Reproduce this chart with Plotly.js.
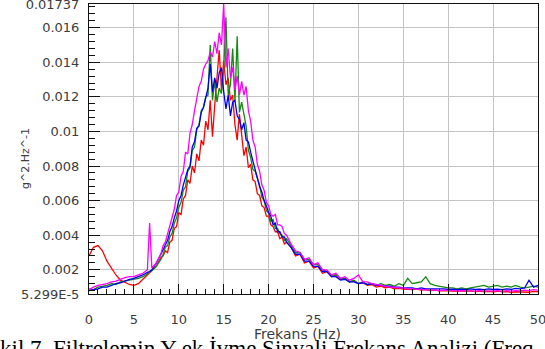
<!DOCTYPE html>
<html>
<head>
<meta charset="utf-8">
<script src="https://cdn.plot.ly/plotly-3.0.1.min.js"></script>
<style>
  html, body { margin: 0; padding: 0; background: #fff; }
  #chart { width: 545px; height: 349px; }
</style>
</head>
<body>
<div id="chart"></div>
<script>
// Frequency axis (Hz)
const freq = [0,0.5,1,1.5,2,2.5,3,3.5,4,4.5,5,5.5,6,6.5,6.75,7,7.5,8,
  8.25,8.5,8.75,9,9.25,9.5,9.75,10,10.25,10.5,10.75,11,11.25,11.5,11.75,12,12.25,12.5,12.75,13,13.25,13.5,13.75,14,
  14.25,14.5,14.75,15,15.25,15.5,15.75,16,16.25,16.5,16.75,17,17.25,17.5,17.75,18,18.25,18.5,18.75,19,19.25,19.5,19.75,20,
  20.25,20.5,20.75,21,21.25,21.5,21.75,22,
  22.5,23,23.5,24,24.5,25,25.5,26,26.5,27,27.5,28,28.5,29,29.5,30,30.5,31,31.5,32,32.5,33,33.5,34,34.5,35,35.5,36,36.5,37,
  37.5,38,38.5,39,39.5,40,40.5,41,41.5,42,42.5,43,43.5,44,44.5,45,45.5,46,46.5,47,47.5,48,48.5,49,49.5,50];

// PSD values (g^2/Hz)
const psdRed = [0.0028,0.0033,0.0034,0.0031,0.0025,0.0021,0.0017,0.0014,0.00125,0.00115,0.0011,0.0012,0.00145,0.0017,0.0018,0.0019,0.0022,0.0027,
  0.0028,0.0031,0.0030,0.0036,0.0037,0.0044,0.0045,0.0053,0.0052,0.0061,0.0063,0.0072,0.0070,0.0080,0.0076,0.0087,0.0083,0.0095,0.0092,0.0106,0.0101,0.0118,0.0097,0.0115,
  0.0130,0.0147,0.0124,0.0141,0.0127,0.0131,0.0118,0.0121,0.0104,0.0095,0.0110,0.0096,0.0086,0.0091,0.0079,0.0081,0.0072,0.0071,0.0064,0.0063,0.0057,0.0056,0.0051,0.0051,
  0.0046,0.0045,0.0042,0.0042,0.0038,0.0039,0.0035,0.0036,
  0.0033,0.0028,0.0029,0.0024,0.0025,0.0021,0.0022,0.0018,0.0019,0.0016,0.0017,0.00145,0.0015,0.0013,0.00135,0.0012,0.00125,0.0011,0.00115,0.001,
  0.00105,0.00095,0.001,0.0009,0.00092,0.00088,0.00085,0.00085,0.00088,0.00082,0.00085,0.0008,0.00082,0.00078,0.0008,0.00078,0.0008,0.00076,0.00078,0.00075,
  0.00078,0.00074,0.00076,0.00072,0.00075,0.00073,0.00076,0.00072,0.00074,0.0007,0.00073,0.00072,0.00074,0.0007,0.00075,0.00073];

const psdGreen = [0.0009,0.00085,0.001,0.00105,0.0011,0.0012,0.00115,0.0013,0.00135,0.0014,0.00145,0.0015,0.0016,0.00175,0.0019,0.00195,0.0022,0.0026,
  0.0029,0.0033,0.0034,0.0039,0.0041,0.0047,0.0050,0.0056,0.0059,0.0066,0.0068,0.0077,0.0079,0.0089,0.0091,0.0101,0.0104,0.0112,0.0114,0.0120,0.0121,0.0150,0.0118,0.0129,
  0.0117,0.0125,0.0122,0.0136,0.0166,0.0121,0.0127,0.0148,0.0117,0.0155,0.0111,0.0117,0.0110,0.0103,0.0089,0.0085,0.0078,0.0077,0.0073,0.0069,0.0062,0.0060,0.0054,0.0053,
  0.0048,0.0049,0.0044,0.0044,0.0041,0.0040,0.0037,0.0038,
  0.0034,0.0030,0.0030,0.0026,0.0026,0.0023,0.0023,0.0020,0.0019,0.0017,0.0017,0.0015,0.0015,0.0013,0.0014,0.0012,0.0013,0.00115,0.0012,0.0011,
  0.0012,0.0011,0.00115,0.00105,0.0012,0.0011,0.0015,0.0012,0.00125,0.0013,0.0016,0.0012,0.0011,0.00105,0.001,0.00095,0.00095,0.0009,0.00095,0.0009,
  0.00095,0.001,0.00105,0.0011,0.001,0.00105,0.0011,0.001,0.00105,0.001,0.0011,0.001,0.00095,0.001,0.00105,0.001];

const psdBlue = [0.0008,0.00085,0.0009,0.001,0.001,0.0011,0.0012,0.00125,0.00135,0.00145,0.0015,0.0016,0.0017,0.00185,0.0019,0.002,0.0024,0.0029,
  0.0032,0.0035,0.0037,0.0042,0.0045,0.0050,0.0054,0.0060,0.0063,0.0069,0.0074,0.0078,0.0080,0.0091,0.0094,0.0102,0.0103,0.0111,0.0114,0.0120,0.0125,0.0139,0.0123,0.0131,
  0.0125,0.0134,0.0137,0.0123,0.0113,0.0121,0.0109,0.0117,0.0118,0.0109,0.0107,0.0101,0.0105,0.0095,0.0094,0.0088,0.0083,0.0079,0.0074,0.0068,0.0065,0.0060,0.0057,0.0053,
  0.0051,0.0046,0.0047,0.0042,0.0042,0.0039,0.0039,0.0036,
  0.0033,0.0029,0.0029,0.0025,0.0025,0.0022,0.0022,0.0019,0.0019,0.0016,0.0016,0.0014,0.00145,0.0013,0.0013,0.0012,0.00125,0.00115,0.0012,0.0011,
  0.0011,0.00105,0.00105,0.001,0.001,0.00095,0.00095,0.00095,0.0009,0.00095,0.0009,0.0009,0.00092,0.00088,0.0009,0.00086,0.00088,0.00085,0.00088,0.00085,
  0.0009,0.00086,0.00088,0.00085,0.0009,0.00086,0.00088,0.00085,0.0009,0.00087,0.00092,0.0009,0.00095,0.0014,0.001,0.0011];

const psdMagenta = [0.00085,0.001,0.0011,0.00115,0.0012,0.0013,0.00135,0.00145,0.00155,0.0016,0.0016,0.0017,0.0018,0.002,0.0047,0.0021,0.0024,0.0029,
  0.0034,0.0036,0.0041,0.0045,0.0051,0.0055,0.0063,0.0065,0.0074,0.0077,0.0088,0.0087,0.0099,0.0104,0.0112,0.0118,0.0126,0.0129,0.0136,0.0139,0.0141,0.0146,0.0143,0.0152,
  0.0145,0.0157,0.0150,0.01737,0.0137,0.0148,0.0131,0.0137,0.0124,0.0132,0.0121,0.0129,0.0121,0.0126,0.0112,0.0106,0.0095,0.0091,0.0081,0.0077,0.0069,0.0066,0.0059,0.0057,
  0.0052,0.0051,0.0052,0.0046,0.0046,0.0045,0.0041,0.0040,
  0.0035,0.0031,0.0030,0.0026,0.0027,0.0023,0.0024,0.0020,0.0020,0.0017,0.0018,0.0015,0.0016,0.0014,0.0015,0.0017,0.0013,0.0013,0.0012,0.00115,
  0.0011,0.00105,0.001,0.001,0.00095,0.00095,0.0009,0.0009,0.00088,0.00085,0.00085,0.00082,0.00084,0.0008,0.00082,0.0008,0.0008,0.00078,0.0008,0.00078,
  0.0008,0.00077,0.0008,0.00078,0.0008,0.00077,0.0008,0.00076,0.0008,0.00077,0.0008,0.00078,0.00082,0.0008,0.00085,0.00082];

// Axis ticks
const xTickVals = [0,5,10,15,20,25,30,35,40,45,50];
const xTickText = ['0','5','10','15','20','25','30','35','40','45','50'];
const yTickVals = [0.0006,0.002,0.004,0.006,0.008,0.01,0.012,0.014,0.016,0.01737];
const yTickText = ['5.299E-5','0.002','0.004','0.006','0.008','0.01','0.012','0.014','0.016','0.01737'];

const xTitle = 'Frekans (Hz)';
const yTitle = 'g^2.Hz^-1';
const caption = 'kil 7. Filtrelemin Y ek İvme Sinyali Frekans Analizi (Freq';

const series = [
  {name: 'Red', y: psdRed, color: '#ff0000'},
  {name: 'Green', y: psdGreen, color: '#128a12'},
  {name: 'Blue', y: psdBlue, color: '#0000f0'},
  {name: 'Magenta', y: psdMagenta, color: '#ff00ff'}
];

const traces = series.map(s => ({
  type: 'scatter', mode: 'lines', x: freq, y: s.y, name: s.name,
  line: {color: s.color, width: 1.3}, hoverinfo: 'skip'
}));

// geometry helpers (pixels -> paper)
const W = 545, H = 349, ML = 89, MR = 7, MT = 4, MB = 55;
const PW = W - ML - MR, PH = H - MT - MB;
const px = v => (v - ML) / PW;
const py = v => (H - MB - v) / PH;

const axisFont = {family: 'DejaVu Sans, Verdana, sans-serif', size: 13, color: '#3c3c3c'};

const layout = {
  width: W, height: H,
  margin: {l: ML, r: MR, t: MT, b: MB, pad: 0},
  paper_bgcolor: '#ffffff', plot_bgcolor: '#ffffff',
  showlegend: false,
  font: axisFont,
  xaxis: {
    range: [0, 50], tickmode: 'array', tickvals: xTickVals, ticktext: xTickText,
    ticks: 'inside', ticklen: 10, tickwidth: 1, tickcolor: '#111',
    showgrid: true, gridcolor: '#c4c4c4', gridwidth: 1,
    showline: true, linecolor: '#111', linewidth: 1, mirror: true, zeroline: false,
    minor: {tickmode: 'linear', tick0: 0, dtick: 1, ticks: 'inside', ticklen: 5, tickcolor: '#111', showgrid: false},
    ticklabelstandoff: 13, ticklabeloverflow: 'allow', tickfont: axisFont, automargin: false
  },
  yaxis: {
    range: [0.0006, 0.01737], tickmode: 'array', tickvals: yTickVals, ticktext: yTickText,
    ticks: 'inside', ticklen: 11, tickwidth: 1, tickcolor: '#111',
    showgrid: true, gridcolor: '#c4c4c4', gridwidth: 1,
    showline: true, linecolor: '#111', linewidth: 1, mirror: true, zeroline: false,
    minor: {tickmode: 'linear', tick0: 0, dtick: 0.0004, ticks: 'inside', ticklen: 6, tickcolor: '#111', showgrid: false},
    ticklabelstandoff: 6, ticklabeloverflow: 'allow', tickfont: axisFont, automargin: false
  },
  annotations: [
    {text: xTitle, xref: 'paper', yref: 'paper', x: px(297.5), y: py(334), xanchor: 'center', yanchor: 'middle',
     showarrow: false, font: {family: 'DejaVu Sans, Verdana, sans-serif', size: 14, color: '#3c3c3c'}},
    {text: yTitle, xref: 'paper', yref: 'paper', x: px(25), y: py(159), xanchor: 'center', yanchor: 'middle',
     textangle: -90, showarrow: false, font: {family: 'DejaVu Sans, Verdana, sans-serif', size: 11, color: '#3c3c3c'}},
    {text: caption, xref: 'paper', yref: 'paper', x: px(-2), y: py(334), xanchor: 'left', yanchor: 'top',
     showarrow: false, font: {family: 'Liberation Serif, Times New Roman, serif', size: 23, color: '#000'}}
  ]
};

Plotly.newPlot('chart', traces, layout, {displayModeBar: false, staticPlot: true});
</script>
</body>
</html>
